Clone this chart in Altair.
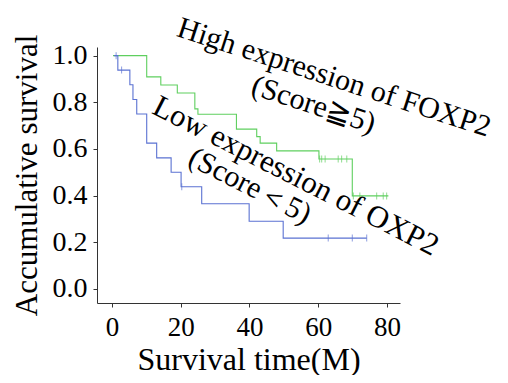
import altair as alt
import pandas as pd

# Kaplan-Meier step curves (time in months, cumulative survival)
high_t = [0.3, 10.1, 14.2, 19.0, 24.1, 25.0, 36.2, 42.1, 43.1, 47.9, 60.2, 69.9, 80.4]
high_s = [1.0, 0.909, 0.874, 0.840, 0.772, 0.749, 0.685, 0.653, 0.625, 0.592, 0.557, 0.399, 0.399]
low_t = [0.6, 1.7, 5.2, 6.1, 7.2, 10.1, 13.0, 17.2, 20.1, 26.1, 39.9, 49.8, 74.1]
low_s = [1.0, 0.938, 0.875, 0.812, 0.75, 0.625, 0.562, 0.5, 0.438, 0.365, 0.29, 0.218, 0.218]

# censored observations
high_cens_t = [60.4, 61.0, 62.0, 65.8, 66.8, 68.3, 70.2, 72.1, 77.0, 78.9, 79.9]
high_cens_s = [0.557, 0.557, 0.557, 0.557, 0.557, 0.557, 0.399, 0.399, 0.399, 0.399, 0.399]
low_cens_t = [1.2, 2.8, 20.3, 62.9, 69.9, 74.1]
low_cens_s = [1.0, 0.938, 0.438, 0.218, 0.218, 0.218]

groups = ["High", "Low"]
colors = ["#5fcf5f", "#5b72d2"]

x_ticks = [0, 20, 40, 60, 80]
y_ticks = [0.0, 0.2, 0.4, 0.6, 0.8, 1.0]

# annotation texts: (line, t, s, angle)
ann_text = ["High expression of FOXP2", "(Score\u22675)", "Low expression of OXP2", "(Score\uff1c5)"]
ann_t = [64.6, 58.6, 53.4, 40.1]
ann_s = [0.905, 0.789, 0.482, 0.441]
ann_angle = [18, 18, 27, 27]
ann_size = [30, 30, 31, 30]

lines = pd.DataFrame({
    "t": high_t + low_t,
    "s": high_s + low_s,
    "g": ["High"] * len(high_t) + ["Low"] * len(low_t),
})
cens = pd.DataFrame({
    "t": high_cens_t + low_cens_t,
    "s": high_cens_s + low_cens_s,
    "g": ["High"] * len(high_cens_t) + ["Low"] * len(low_cens_t),
})

FONT = "Liberation Serif"

xscale = alt.Scale(domain=[-4.36, 83.78], nice=False, zero=False)
yscale = alt.Scale(domain=[-0.06, 1.037], nice=False, zero=False)
cscale = alt.Scale(domain=groups, range=colors)

xax = alt.Axis(values=x_ticks, title="Survival time(M)", grid=False, format="d",
               domainColor="#333333", tickColor="#333333", tickSize=4,
               labelFont=FONT, labelFontSize=27, labelColor="black", labelPadding=7,
               titleFont=FONT, titleFontSize=32, titleFontWeight="normal", titleColor="black",
               titleBaseline="alphabetic", titleY=66, titleX=151.5)
yax = alt.Axis(values=y_ticks, title="Accumulative survival", grid=False, format=".1f",
               domainColor="#333333", tickColor="#333333", tickSize=4,
               labelFont=FONT, labelFontSize=28, labelColor="black", labelPadding=6,
               titleFont=FONT, titleFontSize=31, titleFontWeight="normal", titleColor="black",
               titleAngle=-90, titleBaseline="alphabetic", titleX=-61, titleY=128)

base_x = alt.X("t:Q", scale=xscale, axis=xax)
base_y = alt.Y("s:Q", scale=yscale, axis=yax)

line_layer = alt.Chart(lines).mark_line(interpolate="step-after", strokeWidth=1.1).encode(
    x=base_x, y=base_y,
    color=alt.Color("g:N", scale=cscale, legend=None),
    detail="g:N",
)
tick_layer = alt.Chart(cens).mark_tick(orient="vertical", size=7, thickness=1).encode(
    x=alt.X("t:Q", scale=xscale),
    y=alt.Y("s:Q", scale=yscale),
    color=alt.Color("g:N", scale=cscale, legend=None),
)

layers = [line_layer, tick_layer]
for txt, tt, ss, ang, fs in zip(ann_text, ann_t, ann_s, ann_angle, ann_size):
    d = pd.DataFrame({"t": [tt], "s": [ss], "label": [txt]})
    layers.append(
        alt.Chart(d).mark_text(font=FONT, fontSize=fs, angle=ang, align="center",
                               baseline="middle", color="black").encode(
            x=alt.X("t:Q", scale=xscale),
            y=alt.Y("s:Q", scale=yscale),
            text="label:N",
        )
    )

chart = alt.layer(*layers).properties(
    width=303, height=256,
    autosize=alt.AutoSizeParams(type="none"),
    padding={"left": 89, "top": 39, "right": 100, "bottom": 72},
).configure_view(stroke=None)

chart.save("out.html", embed_options={"renderer": "svg", "actions": False})
